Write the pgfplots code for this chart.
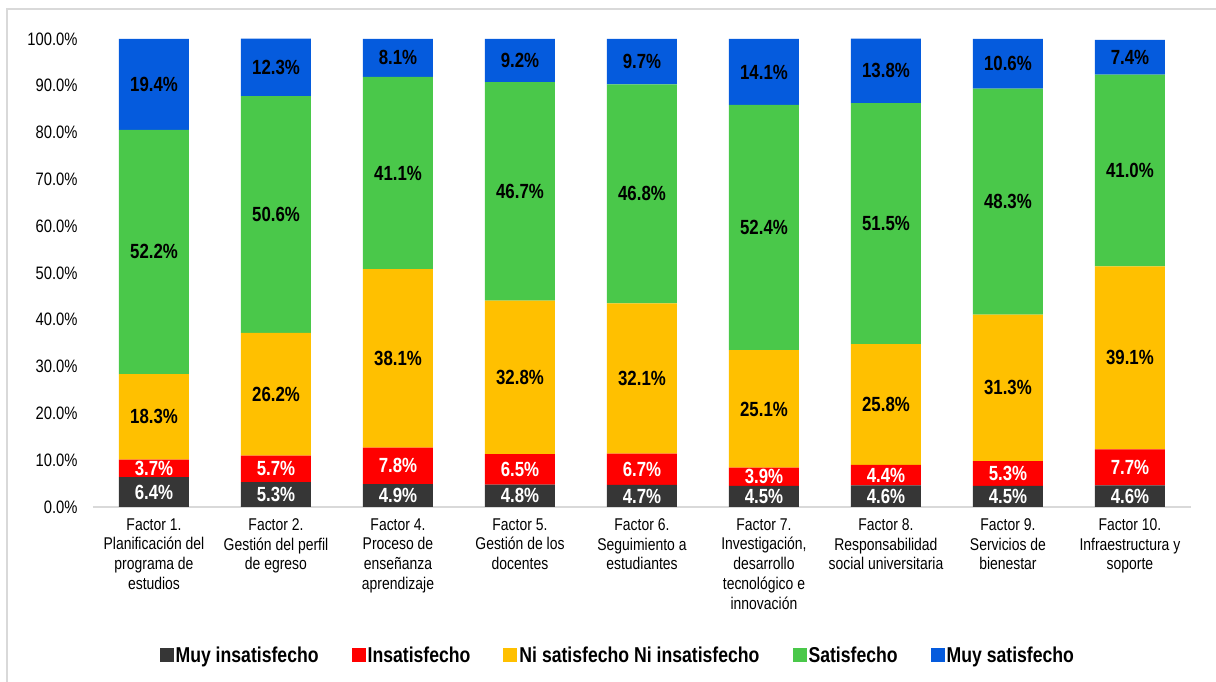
\documentclass[border=0pt]{standalone}
\usepackage{pgfplots}
\pgfplotsset{compat=1.18}
\usepackage{pgfplotstable}
\usepackage{fontspec}
\setmainfont{Liberation Sans}[FakeStretch=0.82]

\definecolor{cMI}{HTML}{363636}
\definecolor{cIN}{HTML}{FF0000}
\definecolor{cNI}{HTML}{FFC000}
\definecolor{cSA}{HTML}{4AC84A}
\definecolor{cMS}{HTML}{055BDD}
\definecolor{cLine}{HTML}{D9D9D9}

% x  muy insat.  insat.  ni/ni  satisf.  muy satisf.
\pgfplotstableread{
x mi in ni sa ms
0 6.4 3.7 18.3 52.2 19.4
1 5.3 5.7 26.2 50.6 12.3
2 4.9 7.8 38.1 41.1 8.1
3 4.8 6.5 32.8 46.7 9.2
4 4.7 6.7 32.1 46.8 9.7
5 4.5 3.9 25.1 52.4 14.1
6 4.6 4.4 25.8 51.5 13.8
7 4.5 5.3 31.3 48.3 10.6
8 4.6 7.7 39.1 41.0 7.4
}\satdata

\pgfplotsset{
  seg/.style 2 args={
    fill=#1, draw=none,
    visualization depends on={rawy \as \segv},
    nodes near coords={\pgfmathprintnumber[fixed,fixed zerofill,precision=1]{\segv}\%},
    every node near coord/.style={
      anchor=center,
      font=\fontsize{20.5}{24}\selectfont\bfseries, text=#2},
  },
}

\begin{document}
\begin{tikzpicture}
\useasboundingbox (0,0) rectangle (1216pt,682pt);
\draw[cLine, line width=2pt] (7pt,0) -- (7pt,673pt) -- (1216pt,673pt);
\begin{axis}[
  at={(93pt,175pt)}, anchor=south west,
  scale only axis, width=1098pt, height=468.94pt,
  ybar stacked, bar width=70pt,
  xmin=-0.5, xmax=8.5, ymin=0, ymax=100.2,
  xtick={0,...,8},
  xticklabels={
    {Factor 1.\\Planificación del\\programa de\\estudios},
    {Factor 2.\\Gestión del perfil\\de egreso},
    {Factor 4.\\Proceso de\\enseñanza\\aprendizaje},
    {Factor 5.\\Gestión de los\\docentes},
    {Factor 6.\\Seguimiento a\\estudiantes},
    {Factor 7.\\Investigación,\\desarrollo\\tecnológico e\\innovación},
    {Factor 8.\\Responsabilidad\\social universitaria},
    {Factor 9.\\Servicios de\\bienestar},
    {Factor 10.\\Infraestructura y\\soporte}},
  xticklabel style={align=center, font=\fontsize{17}{19.7}\selectfont, anchor=north, yshift=-8pt},
  ytick={0,10,...,100},
  yticklabel={\pgfmathprintnumber[fixed,fixed zerofill,precision=1]{\tick}\%},
  yticklabel style={font=\fontsize{18}{20}\selectfont, xshift=-12pt},
  /pgf/number format/assume math mode=true,
  axis x line*=bottom, axis y line*=left,
  y axis line style={draw=none},
  x axis line style={draw=cLine, line width=1.5pt},
  major tick length=0pt,
  legend style={
    draw=none, fill=none, legend columns=-1,
    at={(0.478,-0.316)}, anchor=center,
    font=\fontsize{21.5}{24}\selectfont\bfseries,
    /tikz/every even column/.append style={column sep=31pt},
    nodes={inner sep=2pt},
  },
  legend image code/.code={\fill[#1, draw=none] (0pt,-7pt) rectangle (14pt,7pt);},
]
\addplot[seg={cMI}{white}] table[x=x, y=mi] {\satdata};
\addplot[seg={cIN}{white}] table[x=x, y=in] {\satdata};
\addplot[seg={cNI}{black}] table[x=x, y=ni] {\satdata};
\addplot[seg={cSA}{black}] table[x=x, y=sa] {\satdata};
\addplot[seg={cMS}{black}] table[x=x, y=ms] {\satdata};
\legend{Muy insatisfecho, Insatisfecho, Ni satisfecho Ni insatisfecho, Satisfecho, Muy satisfecho}
\end{axis}
\end{tikzpicture}
\end{document}
